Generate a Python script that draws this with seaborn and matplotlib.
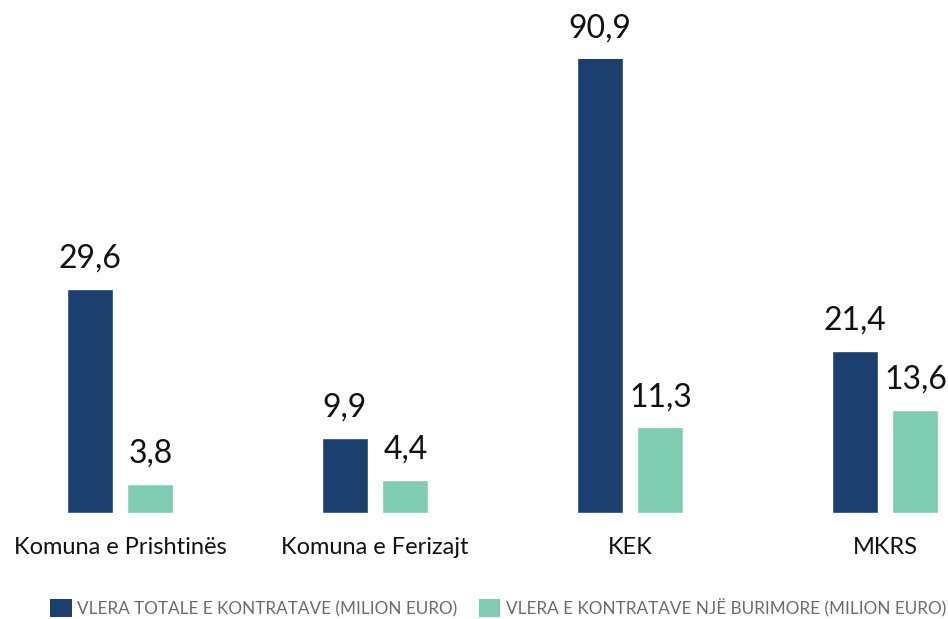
import matplotlib
matplotlib.use("Agg")
import matplotlib.pyplot as plt
import seaborn as sns
import pandas as pd

categories = ["Komuna e Prishtinës", "Komuna e Ferizajt", "KEK", "MKRS"]
series_names = ["VLERA TOTALE E KONTRATAVE (MILION EURO)",
                "VLERA E KONTRATAVE NJË BURIMORE (MILION EURO)"]
total_values = [29.6, 9.9, 90.9, 21.4]
single_source_values = [3.8, 4.4, 11.3, 13.6]
colors = ["#1b3f6f", "#7ecdb2"]

df = pd.DataFrame({
    "cat": categories * 2,
    "series": [series_names[0]] * 4 + [series_names[1]] * 4,
    "value": total_values + single_source_values,
})

sns.set_theme(style="white")
plt.rcParams['font.family'] = ['Lato', 'DejaVu Sans']

fig = plt.figure(figsize=(9.48, 6.19), dpi=100)
ax = fig.add_axes([0.0, 106 / 619, 1.0, 454 / 619])

sns.barplot(data=df, x="cat", y="value", hue="series", order=categories,
            hue_order=series_names, palette=colors, width=0.478, gap=0.246,
            saturation=1, ax=ax, legend=False, errorbar=None)

ymax = 60
ax.set_ylim(0, ymax)
ax.set_xlim(-120 / 255, -120 / 255 + 948 / 255)

for cont in ax.containers:
    for p in cont:
        h = p.get_height()
        ytop = min(h, ymax)
        ax.annotate(f"{h:.1f}".replace(".", ","), (p.get_x() + p.get_width() / 2, ytop),
                    xytext=(0, 11), textcoords="offset points", ha="center", va="bottom",
                    fontsize=23, color="#111111", annotation_clip=False)

for s in ax.spines.values():
    s.set_visible(False)
ax.set_yticks([])
ax.set_xlabel("")
ax.set_ylabel("")
ax.tick_params(axis="x", length=0, pad=17, labelsize=17, labelcolor="#111111")

from matplotlib.patches import Patch
handles = [Patch(facecolor=c, edgecolor="none") for c in colors]
leg = fig.legend(handles, series_names, loc="center", bbox_to_anchor=(498 / 948, 11 / 619),
                 ncol=2, frameon=False, fontsize=12.3, handlelength=1.25, handleheight=1.25,
                 handletextpad=0.3, columnspacing=1.3, labelcolor="#6b6b6b",
                 borderaxespad=0, borderpad=0)

fig.savefig("out.png", dpi=100)
